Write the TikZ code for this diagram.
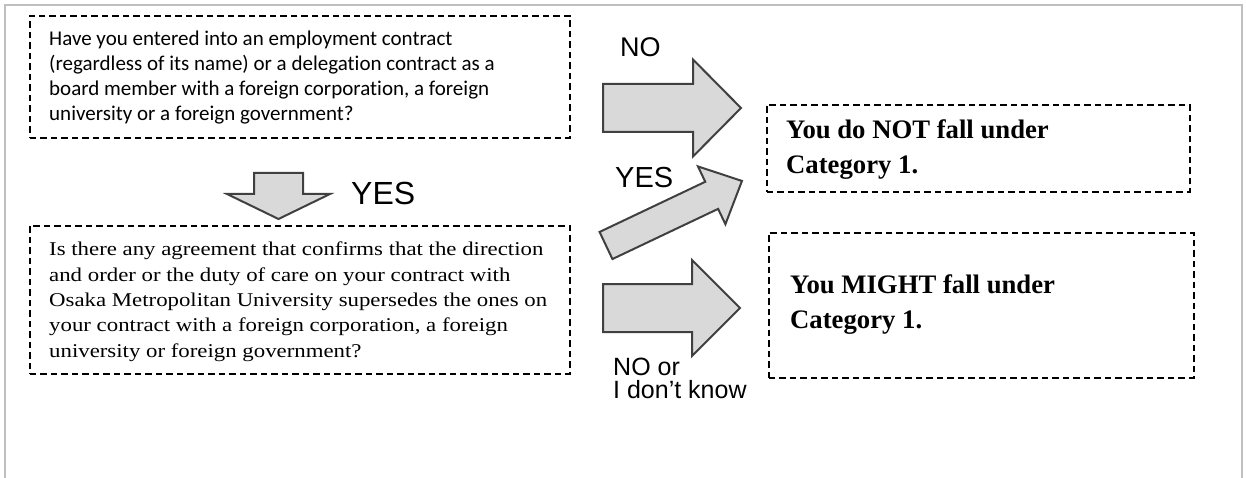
\documentclass[tikz,border=0pt]{standalone}
\usepackage{fontspec}
\setmainfont{Liberation Serif}
\newfontfamily\qsans[Ligatures=NoCommon]{Carlito}
\newfontfamily\qserif[FakeStretch=1.17]{Liberation Serif}
\newfontfamily\lsans{Liberation Sans}

\definecolor{framegray}{HTML}{BFBFBF}
\definecolor{arrowfill}{HTML}{D9D9D9}
\definecolor{arrowline}{HTML}{404040}

% big block arrow: tail coordinate, angle, length, half shaft, half head, head length
\newcommand{\blockarrow}[6]{%
  \draw[barrow, shift={(#1)}, rotate=#2]
    (0,-#4) -- ({#3-#6},-#4) -- ({#3-#6},-#5) -- (#3,0)
    -- ({#3-#6},#5) -- ({#3-#6},#4) -- (0,#4) -- cycle;}

\tikzset{
  qbox/.style={draw, line width=1.6pt, dash pattern=on 6.5pt off 4pt,
    anchor=north west, inner sep=0pt},
  qtext/.style={anchor=base west, inner sep=0pt, align=left},
  barrow/.style={draw=arrowline, fill=arrowfill, line width=2pt},
  answer/.style={anchor=base west, inner sep=0pt},
}

\begin{document}
\begin{tikzpicture}[x=1pt, y=-1pt]
\useasboundingbox (0,0) rectangle (1246,478);
\draw[framegray, line width=2.5pt] (5,478) -- (5,5) -- (1242,5) -- (1242,478);

% question boxes (text placed by the baseline of its last line)
\node[qbox, minimum width=540pt, minimum height=122pt] (q1) at (29,15) {};
\node[qtext, font=\qsans\fontsize{21}{25.3}\selectfont] (q1txt) at (49,121)
  {Have you entered into an employment contract\\
   (regardless of its name) or a delegation contract as a\\
   board member with a foreign corporation, a foreign\\
   university or a foreign government?};
\node[qbox, minimum width=540pt, minimum height=148pt] (q2) at (29,225) {};
\node[qtext, font=\qserif\fontsize{19.5}{25.3}\selectfont] (q2txt) at (49,357)
  {Is there any agreement that confirms that the direction\\
   and order or the duty of care on your contract with\\
   Osaka Metropolitan University supersedes the ones on\\
   your contract with a foreign corporation, a foreign\\
   university or foreign government?};

% result boxes
\node[qbox, minimum width=423pt, minimum height=87pt] (r1) at (766,104) {};
\node[qtext, font=\bfseries\fontsize{26.7}{35}\selectfont] (r1txt) at (786,174)
  {You do NOT fall under\\Category 1.};
\node[qbox, minimum width=425pt, minimum height=145pt] (r2) at (768,232) {};
\node[qtext, font=\bfseries\fontsize{26.7}{35}\selectfont] (r2txt) at (790,328)
  {You MIGHT fall under\\Category 1.};

% block arrows
\coordinate (noTail) at (603,108);
\coordinate (yesTail) at (606,245.5);
\coordinate (downTail) at (278.5,173);
\coordinate (dkTail) at (603,308);
\blockarrow{noTail}{0}{138}{24}{48.5}{48}
\blockarrow{yesTail}{25.4}{150.5}{15}{32}{33.5}
\blockarrow{downTail}{-90}{46}{24.5}{51.5}{25}
\blockarrow{dkTail}{0}{137}{24}{48}{48}

% answers
\node[answer, font=\lsans\fontsize{27}{27}\selectfont] (noLbl) at (620,57) {NO};
\node[answer, font=\lsans\fontsize{29}{29}\selectfont] (yesLbl) at (615,188) {YES};
\node[answer, font=\lsans\fontsize{32}{32}\selectfont] (yesDown) at (351,205) {YES};
\node[answer, align=left, font=\lsans\fontsize{25}{23}\selectfont] (dkLbl) at (613,398)
  {NO or\\I don’t know};
\end{tikzpicture}
\end{document}
